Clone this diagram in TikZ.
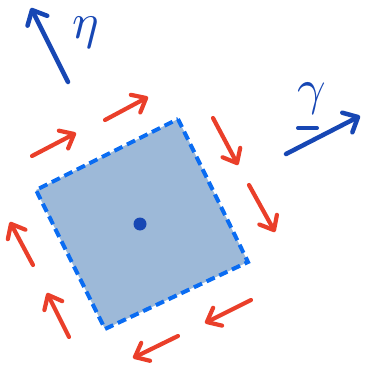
\documentclass[tikz,border=0pt]{standalone}
\usetikzlibrary{arrows.meta}
\definecolor{redarr}{HTML}{EA3F2A}
\definecolor{bluearr}{HTML}{1747B4}
\definecolor{sqfill}{HTML}{9DB9D8}
\definecolor{sqedge}{HTML}{0A6CF2}
\begin{document}
\begin{tikzpicture}[x=1pt,y=-1pt,
  redarrow/.style={draw=redarr,line width=4.2pt,line cap=round,
    -{Straight Barb[length=12pt,width=20pt,round]}},
  bluearrow/.style={draw=bluearr,line width=4.5pt,line cap=round,
    -{Straight Barb[length=12pt,width=22pt,round]}},
  lbl/.style={text=bluearr,inner sep=0pt,scale=5}]
\useasboundingbox (0,0) rectangle (364,366);
% square corners
\coordinate (T) at (178,119);
\coordinate (R) at (248,262);
\coordinate (B) at (105,329);
\coordinate (L) at (36,190);
\fill[sqfill] (T) -- (R) -- (B) -- (L) -- cycle;
\draw[sqedge,line width=4pt,dash pattern=on 9pt off 5pt] (T) -- (R) -- (B) -- (L) -- cycle;
\node[circle,fill=bluearr,inner sep=0pt,minimum size=13pt] (c) at (140,224) {};
% red arrows
\coordinate (a1s) at (32,156);  \coordinate (a1e) at (76,133);
\coordinate (a2s) at (105,120); \coordinate (a2e) at (148,97);
\coordinate (a3s) at (213,118); \coordinate (a3e) at (238,165);
\coordinate (a4s) at (249,185); \coordinate (a4e) at (275,232);
\coordinate (a5s) at (251,300); \coordinate (a5e) at (205,323);
\coordinate (a6s) at (178,336); \coordinate (a6e) at (133,358);
\coordinate (a7s) at (69,337);  \coordinate (a7e) at (47,293);
\coordinate (a8s) at (33,265);  \coordinate (a8e) at (10,222);
\foreach \i in {1,...,8} \draw[redarrow] (a\i s) -- (a\i e);
% blue arrows
\coordinate (es) at (68,82);  \coordinate (ee) at (31,8);
\coordinate (gs) at (286,154); \coordinate (ge) at (360,116);
\draw[bluearrow] (es) -- (ee);
\draw[bluearrow] (gs) -- (ge);
\node[lbl] (eta) at (86,33) {$\eta$};
\node[lbl] (gam) at (312,99) {$\gamma$};
\coordinate (ul1) at (298,128); \coordinate (ul2) at (317,128);
\draw[bluearr,line width=4pt,line cap=round] (ul1) -- (ul2);
\end{tikzpicture}
\end{document}
